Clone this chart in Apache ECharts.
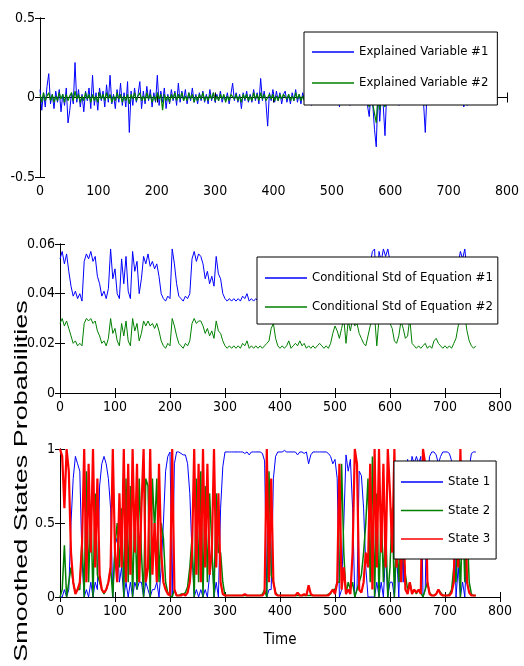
<!DOCTYPE html>
<html>
<head>
<meta charset="utf-8">
<script src="https://cdn.jsdelivr.net/npm/echarts@6/dist/echarts.min.js"></script>
<style>
  html, body { margin: 0; padding: 0; background: #fff; }
  #main { width: 524px; height: 666px; }
</style>
</head>
<body>
<div id="main"></div>
<script>
// time step between samples of each panel
const STEP1 = 3, STEP2 = 4, STEP3 = 4;

// panel 1 : explained variables
const explained1 = [
  .05,-.08,.03,-.06,.07,.15,-.04,.02,-.07,.04,
  -.03,.05,-.09,.02,-.05,.06,-.16,-.08,.03,-.04,
  .22,-.03,.05,-.06,.02,-.09,.04,-.02,.06,-.07,
  .14,-.05,.03,-.08,.06,-.02,.04,-.06,.08,-.03,
  .14,-.04,.02,-.07,.05,-.03,.09,-.05,.03,-.06,
  .10,-.22,.04,-.05,.06,-.03,.02,.10,-.07,.04,
  -.04,.07,-.02,.05,-.06,.03,-.03,.14,-.05,.04,
  -.03,.06,-.07,.02,-.04,.05,-.02,.04,-.05,.09,
  -.03,.04,-.02,.05,-.04,.03,-.02,.06,-.03,.02,
  -.04,.03,-.02,.04,-.03,.02,-.04,.05,-.02,.03,
  -.03,.02,-.02,.04,-.03,.01,-.02,.03,-.04,.02,
  .09,-.02,.03,-.03,.02,-.07,.03,-.02,.04,-.03,
  .02,-.03,.05,-.02,.03,-.04,.12,-.02,.04,-.03,
  -.18,.03,-.02,.05,-.03,.04,-.02,.03,-.04,.02,
  .04,-.03,.02,-.04,.03,-.02,.05,-.03,.02,-.04,
  .03,-.02,.04,-.03,.02,-.05,.03,-.02,.04,-.03,
  .02,-.04,.03,-.02,.05,-.03,.02,-.04,.03,-.02,
  .04,-.06,.03,-.02,.05,-.04,.02,-.05,.03,-.02,
  .04,-.04,.03,-.02,.05,-.03,.02,-.05,-.12,.03,
  -.04,-.20,-.31,.04,-.15,.03,-.05,-.24,.04,-.03,
  .05,-.04,.03,-.02,.04,-.05,.02,-.03,.04,-.02,
  .03,-.04,.02,-.03,.05,-.02,.03,-.04,.02,-.03,
  -.22,.03,-.02,.04,-.03,.02,-.04,.03,-.02,.04,
  -.03,.02,-.04,.03,-.02,.05,-.03,.02,-.04,.03,
  -.02,.04,-.06,.03,-.05,.02,-.03,.04,-.02,.03,
  -.03,.02,-.02,.01
];
const explained2 = [
  .02,-.03,.03,-.02,.01,.03,-.02,.02,-.03,.01,
  -.02,.03,-.01,.02,-.03,.02,-.02,.01,.03,-.02,
  .04,-.01,.02,-.03,.01,-.02,.03,-.01,.02,-.03,
  .02,-.02,.01,-.03,.03,-.01,.02,-.02,.03,-.01,
  .02,-.03,.01,-.02,.03,-.01,.02,-.03,.01,-.02,
  .02,-.04,.02,-.01,.03,-.02,.01,.03,-.02,.01,
  -.02,.03,-.01,.02,-.03,.01,-.02,.03,-.01,.02,
  -.08,.02,-.02,.01,-.03,.02,-.01,.03,-.02,.02,
  -.01,.03,-.02,.01,-.02,.03,-.01,.02,-.03,.01,
  -.02,.02,-.01,.03,-.02,.01,-.02,.02,-.01,.03,
  -.02,.01,-.02,.02,-.01,.02,-.03,.01,-.02,.02,
  .03,-.01,.02,-.02,.01,-.03,.02,-.01,.02,-.02,
  .01,-.02,.03,-.01,.02,-.02,.03,-.01,.02,-.02,
  -.03,.02,-.01,.02,-.02,.01,-.02,.02,-.01,.02,
  .02,-.01,.02,-.02,.01,-.02,.03,-.01,.02,-.02,
  .01,-.02,.02,-.01,.02,-.03,.01,-.02,.02,-.01,
  .02,-.02,.01,-.02,.03,-.01,.02,-.02,.01,-.02,
  .02,-.03,.02,-.01,.02,-.02,.01,-.03,.02,-.01,
  .02,-.02,.01,-.02,.03,-.02,.01,-.03,-.06,.02,
  -.04,-.10,-.16,.02,-.08,.01,-.03,-.06,.02,-.02,
  .02,-.02,.01,-.02,.02,-.03,.01,-.02,.02,-.01,
  .02,-.02,.01,-.02,.03,-.01,.02,-.02,.01,-.02,
  -.05,.02,-.01,.02,-.02,.01,-.02,.02,-.01,.02,
  -.02,.01,-.02,.02,-.01,.02,-.02,.01,-.02,.02,
  -.01,.02,-.03,.02,-.02,.01,-.02,.02,-.01,.02,
  -.02,.01,-.01,.01
];

// panel 2 : conditional standard deviations
const condStd1 = [
  .054,.057,.052,.056,.049,.043,.039,.041,.038,.040,
  .037,.053,.056,.054,.057,.053,.055,.047,.044,.039,
  .041,.038,.042,.058,.046,.050,.040,.038,.054,.044,
  .055,.041,.038,.057,.049,.053,.040,.046,.055,.052,
  .056,.051,.053,.050,.052,.047,.040,.038,.037,.039,
  .038,.058,.052,.044,.039,.038,.037,.039,.038,.040,
  .054,.057,.053,.056,.055,.052,.046,.049,.044,.047,
  .043,.055,.048,.046,.040,.038,.037,.038,.037,.038,
  .037,.038,.037,.039,.038,.040,.037,.038,.037,.038,
  .037,.038,.037,.038,.039,.040,.050,.053,.043,.038,
  .037,.038,.037,.038,.040,.037,.038,.039,.038,.040,
  .038,.039,.037,.038,.037,.038,.037,.038,.039,.038,
  .037,.038,.037,.039,.046,.051,.049,.043,.050,.053,
  .040,.052,.049,.054,.052,.053,.047,.044,.039,.038,
  .045,.052,.057,.058,.038,.057,.053,.058,.055,.058,
  .053,.050,.041,.039,.044,.054,.050,.043,.045,.054,
  .039,.038,.037,.038,.037,.038,.039,.037,.038,.037,
  .040,.042,.039,.038,.037,.038,.037,.038,.037,.039,
  .043,.052,.057,.054,.058,.049,.041,.038,.037,.038
];
const condStd2 = [
  .028,.030,.027,.029,.026,.023,.020,.021,.019,.020,
  .019,.028,.030,.029,.030,.028,.029,.025,.023,.020,
  .021,.019,.022,.030,.024,.026,.021,.019,.028,.023,
  .029,.021,.019,.030,.025,.028,.021,.024,.029,.027,
  .029,.027,.028,.026,.028,.025,.021,.019,.018,.020,
  .019,.030,.027,.023,.020,.019,.018,.020,.019,.021,
  .028,.030,.028,.029,.029,.027,.024,.026,.023,.025,
  .022,.029,.025,.024,.021,.019,.018,.019,.018,.019,
  .018,.019,.018,.020,.019,.021,.018,.019,.018,.019,
  .018,.019,.018,.019,.020,.021,.026,.028,.022,.019,
  .018,.019,.018,.019,.021,.018,.019,.020,.019,.021,
  .019,.020,.018,.019,.018,.019,.018,.019,.020,.019,
  .018,.019,.018,.020,.024,.027,.025,.022,.026,.030,
  .020,.029,.025,.030,.027,.028,.024,.022,.020,.019,
  .023,.027,.030,.031,.019,.030,.028,.031,.029,.030,
  .028,.026,.021,.020,.023,.029,.026,.022,.023,.030,
  .020,.019,.018,.019,.018,.019,.020,.018,.019,.018,
  .021,.022,.020,.019,.018,.019,.018,.019,.018,.020,
  .022,.027,.030,.028,.031,.025,.021,.019,.018,.019
];

// panel 3 : smoothed state probabilities
const state1 = [
  0,0,.05,0,.05,.5,.8,.95,.9,.85,
  .25,0,.05,0,.1,0,.1,.05,.75,.9,
  .95,.9,.8,.6,0,.35,.4,.1,.2,0,
  .1,0,.1,0,.1,.05,.1,.1,0,.1,
  .05,0,.05,.05,.1,0,.2,.5,.85,.95,
  .98,0,.9,.98,.98,.97,.96,.96,.9,.7,
  .3,0,.05,0,.05,0,.05,0,.15,.35,
  0,.1,0,.6,.88,.98,.98,.98,.98,.98,
  .98,.98,.98,.98,.97,.98,.96,.98,.98,.98,
  .98,.98,.97,.92,0,.05,.05,.8,.95,.98,
  .98,.98,.99,.98,.98,.98,.98,.98,.96,.98,
  .98,.97,.98,.9,.96,.98,.98,.98,.98,.98,
  .98,.98,.97,.95,.9,.93,.8,0,.05,.5,
  .96,.85,.93,.6,0,.05,.85,.82,.6,.2,
  0,0,0,0,.1,0,.1,0,.3,0,
  .1,.1,0,.3,0,.5,.1,.8,.93,.8,
  .95,.9,.95,.9,.95,0,.05,.8,.95,.98,
  .98,.96,.9,.95,.98,.98,.98,.97,.92,.7,
  0,.2,0,.1,0,.4,.87,.97,.98,.98
];
const state2 = [
  0,.05,.35,0,.1,.2,.1,.03,.05,.05,
  .4,0,.85,.1,.6,0,.7,.15,.1,.05,
  .02,.05,.1,.2,0,.35,.5,.2,.6,0,
  .8,.1,.75,0,.6,.05,.8,.3,0,.8,
  .75,0,.8,.45,.8,.1,.5,.4,.1,.03,
  .01,0,.05,.01,.01,.02,.02,.03,.07,.2,
  .4,0,.8,.1,.85,0,.75,.1,.7,.35,
  0,.7,.3,.3,.1,.01,.01,.01,.01,.01,
  .01,.01,.01,.01,.01,.01,.01,.01,.01,.01,
  .01,.01,.02,.05,0,.85,.15,.1,.03,.01,
  .01,.01,.01,.01,.01,.01,.01,.01,.01,.01,
  .01,.01,.01,.01,.01,.01,.01,.01,.01,.01,
  .01,.01,.02,.02,.05,.05,.1,.1,.9,.3,
  .02,.1,.05,.1,0,.05,.1,.15,.3,.5,
  .8,.1,.95,0,.7,0,.6,.1,.5,0,
  .2,.6,0,.5,.1,.4,.3,.15,.05,.1,
  .03,.05,.02,.05,.03,0,.05,.1,.03,.01,
  .01,.02,.05,.03,.01,.01,.01,.02,.05,.2,
  .1,.6,0,.6,.1,.5,.1,.02,.01,.01
];
const state3 = [
  1,.95,.6,1,.85,.3,.1,.02,.05,.1,
  .35,1,.1,.9,.3,1,.2,.8,.15,.05,
  .03,.05,.1,.2,1,.3,.1,.7,.2,1,
  .1,.9,.15,1,.3,.9,.1,.6,1,.1,
  .2,1,.15,.5,.1,.9,.3,.1,.05,.02,
  .01,1,.05,.01,.01,.01,.02,.01,.03,.1,
  .3,1,.15,.9,.1,1,.2,.9,.15,.3,
  1,.2,.7,.1,.02,.01,.01,.01,.01,.01,
  .01,.01,.01,.01,.02,.01,.01,.01,.01,.01,
  .01,.01,.01,.03,1,.1,.8,.1,.02,.01,
  .01,.01,.01,.01,.01,.01,.01,.01,.03,.01,
  .01,.02,.01,.08,.02,.01,.01,.01,.01,.01,
  .01,.01,.01,.03,.05,.02,.1,.9,.05,.2,
  .02,.05,.02,.3,1,.9,.05,.03,.1,.3,
  .2,.9,.05,1,.2,1,.3,.9,.2,1,
  .7,.3,1,.2,.9,.1,.6,.05,.02,.1,
  .02,.05,.03,.05,.02,1,.9,.1,.02,.01,
  .01,.02,.05,.02,.01,.01,.01,.01,.03,.1,
  .9,.2,1,.3,.9,.1,.03,.01,.01,.01
];

const FONT = "'Liberation Sans Narrow', 'DejaVu Sans Condensed', 'Liberation Sans', sans-serif";
const BLUE = '#0000ff', GREEN = '#008000', RED = '#ff0000';

function pairs(arr, step) { return arr.map((v, i) => [i * step, v]); }

const grids = [
  { left: 40, top: 18, width: 467, height: 159 },
  { left: 60, top: 244, width: 440, height: 149 },
  { left: 60, top: 449, width: 440, height: 148 }
];

const lineAx = { lineStyle: { color: '#000', width: 1 } };
const tickAx = { inside: true, length: 5, lineStyle: { color: '#000' } };

function xAxes(g, extra) {
  const base = { type: 'value', gridIndex: g, min: 0, max: 800, interval: 100,
    splitLine: { show: false }, axisLine: lineAx, axisTick: tickAx };
  return [
    Object.assign({}, base, { position: 'bottom',
      axisLabel: { color: '#000', fontFamily: FONT, fontSize: 14, margin: 7 } }, extra || {}),
    Object.assign({}, base, { position: 'top', axisLabel: { show: false } })
  ];
}
function yAxes(g, min, max, interval, fmt) {
  const base = { type: 'value', gridIndex: g, min: min, max: max, interval: interval,
    splitLine: { show: false }, axisLine: lineAx, axisTick: tickAx };
  return [
    Object.assign({}, base, { position: 'left',
      axisLabel: { color: '#000', fontFamily: FONT, fontSize: 14, margin: 5, formatter: fmt } }),
    Object.assign({}, base, { position: 'right', axisLabel: { show: false } })
  ];
}

function legend(names, left, top, padding, gap) {
  return {
    data: names, orient: 'vertical', left: left, top: top, padding: padding,
    itemGap: gap, itemWidth: 42, itemHeight: 1.5, icon: 'rect',
    backgroundColor: '#fff', borderColor: '#000', borderWidth: 1, borderRadius: 0,
    textStyle: { color: '#000', fontFamily: FONT, fontSize: 13, lineHeight: 18 },
    selectedMode: false
  };
}

function line(name, data, step, color, width, xi, yi) {
  return { name: name, type: 'line', data: pairs(data, step), xAxisIndex: xi, yAxisIndex: yi,
    showSymbol: false, symbol: 'none', lineStyle: { color: color, width: width }, itemStyle: { color: color },
    emphasis: { disabled: true }, silent: true };
}

const fmt2 = v => String(Math.round(v * 100) / 100);

const option = {
  animation: false,
  grid: grids,
  xAxis: [].concat(
    xAxes(0),
    xAxes(1),
    xAxes(2, { name: 'Time', nameLocation: 'middle', nameGap: 36,
      nameTextStyle: { color: '#000', fontFamily: FONT, fontSize: 15 } })
  ),
  yAxis: [].concat(
    yAxes(0, -0.5, 0.5, 0.5, fmt2),
    yAxes(1, 0, 0.06, 0.02, fmt2),
    yAxes(2, 0, 1, 0.5, fmt2)
  ),
  legend: [
    legend(['Explained Variable #1', 'Explained Variable #2'], 304, 32, [11, 9, 13, 8], 13),
    legend(['Conditional Std of Equation #1', 'Conditional Std of Equation #2'], 257, 257, [12, 5, 8, 8], 11),
    legend(['State 1', 'State 2', 'State 3'], 394, 461, [12, 6, 11, 7], 10.5)
  ],
  graphic: [{
    type: 'text', x: 22, y: 481, rotation: Math.PI / 2, scaleX: 1.5,
    style: { text: 'Smoothed States Probabilities', fill: '#000',
      fontFamily: "'Liberation Sans', Arial, sans-serif", fontSize: 18,
      textAlign: 'center', textVerticalAlign: 'middle', align: 'center', verticalAlign: 'middle' }
  }],
  series: [
    line('Explained Variable #1', explained1, STEP1, BLUE, 1, 0, 0),
    line('Explained Variable #2', explained2, STEP1, GREEN, 1.2, 0, 0),
    line('Conditional Std of Equation #1', condStd1, STEP2, BLUE, 1, 2, 2),
    line('Conditional Std of Equation #2', condStd2, STEP2, GREEN, 1, 2, 2),
    line('State 1', state1, STEP3, BLUE, 1, 4, 4),
    line('State 2', state2, STEP3, GREEN, 1.5, 4, 4),
    line('State 3', state3, STEP3, RED, 2.2, 4, 4)
  ]
};

const chart = echarts.init(document.getElementById('main'), null, { renderer: 'canvas' });
chart.setOption(option);
window.addEventListener('resize', function () { chart.resize(); });
</script>
</body>
</html>
